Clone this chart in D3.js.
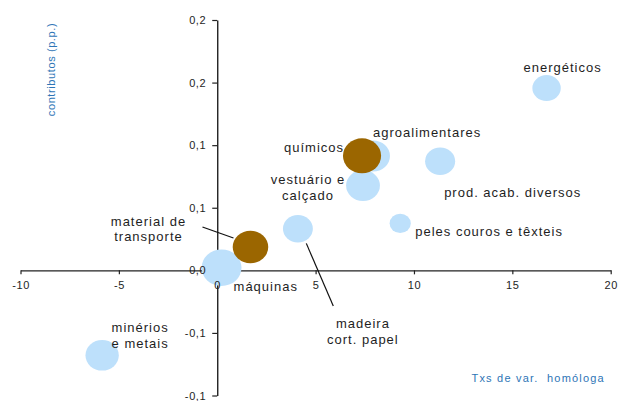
<!DOCTYPE html>
<html>
<head>
<meta charset="utf-8">
<script src="https://cdn.jsdelivr.net/npm/d3@7/dist/d3.min.js"></script>
<style>
  html, body { margin: 0; padding: 0; background: #fff; }
  svg { display: block; font-family: "Liberation Sans", Arial, sans-serif; }
</style>
</head>
<body>
<svg id="chart" width="618" height="401"></svg>
<script>
// Sectors, growth rate (x, %), contribution (y, p.p.) and weight (bubble size)
const sectors = ["máquinas", "material de transporte", "madeira cort. papel", "peles couros e têxteis",
  "vestuário e calçado", "agroalimentares", "químicos", "prod. acab. diversos", "energéticos", "minérios e metais"];
const growthRate = [0.22, 1.69, 4.10, 9.30, 7.41, 7.92, 7.36, 11.33, 16.74, -5.85];
const contribution = [0.0021, 0.0186, 0.0332, 0.0375, 0.0677, 0.0913, 0.0915, 0.0872, 0.1456, -0.0679];
const weight = [19.9, 15.8, 11.2, 5.6, 14.3, 14.3, 18.2, 11.3, 10.1, 13.9];
const highlighted = [false, true, false, false, false, false, true, false, false, false];

const xTicks = [-10, -5, 0, 5, 10, 15, 20];
const xTickLabels = ["-10", "-5", "0", "5", "10", "15", "20"];
const yTicks = [-0.1, -0.05, 0, 0.05, 0.1, 0.15, 0.2];
const yTickLabels = ["-0,1", "-0,1", "0,0", "0,1", "0,1", "0,2", "0,2"];

const xTitle = "Txs de var.  homóloga";
const yTitle = "contributos (p.p.)";

// Label placement relative to each bubble centre (lines, anchor, offsets)
const labelLayout = {
  "energéticos":            { lines: ["energéticos"], anchor: "middle", dx: 16, dy: -16 },
  "agroalimentares":        { lines: ["agroalimentares"], anchor: "start", dx: 0, dy: -19 },
  "químicos":               { lines: ["químicos"], anchor: "end", dx: -18, dy: -4 },
  "vestuário e calçado":    { lines: ["vestuário e", "calçado"], anchor: "middle", dx: -55, dy: -1.5 },
  "prod. acab. diversos":   { lines: ["prod. acab. diversos"], anchor: "start", dx: 4, dy: 36 },
  "peles couros e têxteis": { lines: ["peles couros e têxteis"], anchor: "start", dx: 15, dy: 12.7 },
  "madeira cort. papel":    { lines: ["madeira", "cort. papel"], anchor: "middle", dx: 65, dy: 99.6,
                              leader: [[8.4, 14.6], [35.4, 77.3]] },
  "material de transporte": { lines: ["material de", "transporte"], anchor: "middle", dx: -102, dy: -21.3,
                              leader: [[-48, -20], [-17, -9]] },
  "máquinas":               { lines: ["máquinas"], anchor: "start", dx: 12, dy: 23 },
  "minérios e metais":      { lines: ["minérios", "e metais"], anchor: "middle", dx: 38, dy: -23 }
};

const svg = d3.select("#chart");
const x = d3.scaleLinear().domain([-10, 20]).range([20.5, 610.7]);
const y = d3.scaleLinear().domain([-0.1, 0.2]).range([395.5, 20]);
const r = d3.scaleSqrt().domain([0, 25]).range([0, 20.5]);
const stretch = 1.09; // bubbles are drawn slightly wider than tall

const lightBlue = "#bde0fb";
const brown = "#9b6600";
const ink = "#1e1e1e";
const titleBlue = "#2e75b6";

const xAxis = d3.axisBottom(x).tickValues(xTicks).tickSize(4).tickSizeOuter(0).tickPadding(7)
  .tickFormat((d, i) => xTickLabels[i]);
const yAxis = d3.axisLeft(y).tickValues(yTicks).tickSize(5).tickSizeOuter(0).tickPadding(6)
  .tickFormat((d, i) => yTickLabels[i]);

function styleAxis(g) {
  g.selectAll("path.domain").attr("stroke", "#222").attr("stroke-width", 1.4);
  g.selectAll(".tick line").attr("stroke", "#222").attr("stroke-width", 1.2);
  g.selectAll(".tick text").attr("fill", ink).attr("font-size", 11)
    .attr("font-family", "'Liberation Sans', Arial, sans-serif").style("letter-spacing", "0.6px");
}

// Axis lines underneath the bubbles
svg.append("g").attr("transform", `translate(0,${y(0)})`).call(xAxis).call(styleAxis)
  .call(g => g.selectAll(".tick text").remove());
svg.append("g").attr("transform", `translate(${x(0)},0)`).call(yAxis).call(styleAxis)
  .call(g => g.selectAll(".tick text").remove());

// Bubbles: plain sectors first, highlighted ones on top
const points = sectors.map((name, i) => ({
  name, gx: growthRate[i], cy: contribution[i], w: weight[i], hi: highlighted[i]
}));
const order = points.filter(d => !d.hi).concat(points.filter(d => d.hi));

svg.append("g").selectAll("ellipse").data(order).join("ellipse")
  .attr("cx", d => x(d.gx))
  .attr("cy", d => y(d.cy))
  .attr("rx", d => r(d.w) * stretch)
  .attr("ry", d => r(d.w))
  .attr("fill", d => d.hi ? brown : lightBlue);

// Tick labels drawn above the bubbles
svg.append("g").attr("transform", `translate(0,${y(0)})`).call(xAxis).call(styleAxis)
  .call(g => g.selectAll("path, line").remove());
svg.append("g").attr("transform", `translate(${x(0)},0)`).call(yAxis).call(styleAxis)
  .call(g => g.selectAll("path, line").remove());

// Sector labels and leader lines
const labels = svg.append("g").attr("fill", ink).attr("font-size", 13).style("letter-spacing", "1px");
points.forEach(d => {
  const L = labelLayout[d.name];
  const cx = x(d.gx), cy = y(d.cy);
  if (L.leader) {
    svg.append("line")
      .attr("x1", cx + L.leader[0][0]).attr("y1", cy + L.leader[0][1])
      .attr("x2", cx + L.leader[1][0]).attr("y2", cy + L.leader[1][1])
      .attr("stroke", "#111").attr("stroke-width", 1.2);
  }
  const t = labels.append("text").attr("text-anchor", L.anchor)
    .attr("x", cx + L.dx).attr("y", cy + L.dy);
  L.lines.forEach((line, k) => {
    t.append("tspan").attr("x", cx + L.dx).attr("dy", k === 0 ? 0 : 15.5).text(line);
  });
});

// Axis titles
svg.append("text").attr("x", 471.5).attr("y", 381.5)
  .attr("fill", titleBlue).attr("font-size", 11).style("letter-spacing", "1.2px")
  .style("white-space", "pre").text(xTitle);
svg.append("text").attr("transform", "translate(55,69.5) rotate(-90)")
  .attr("text-anchor", "middle").attr("fill", titleBlue).attr("font-size", 11)
  .style("letter-spacing", "0.6px").text(yTitle);
</script>
</body>
</html>
